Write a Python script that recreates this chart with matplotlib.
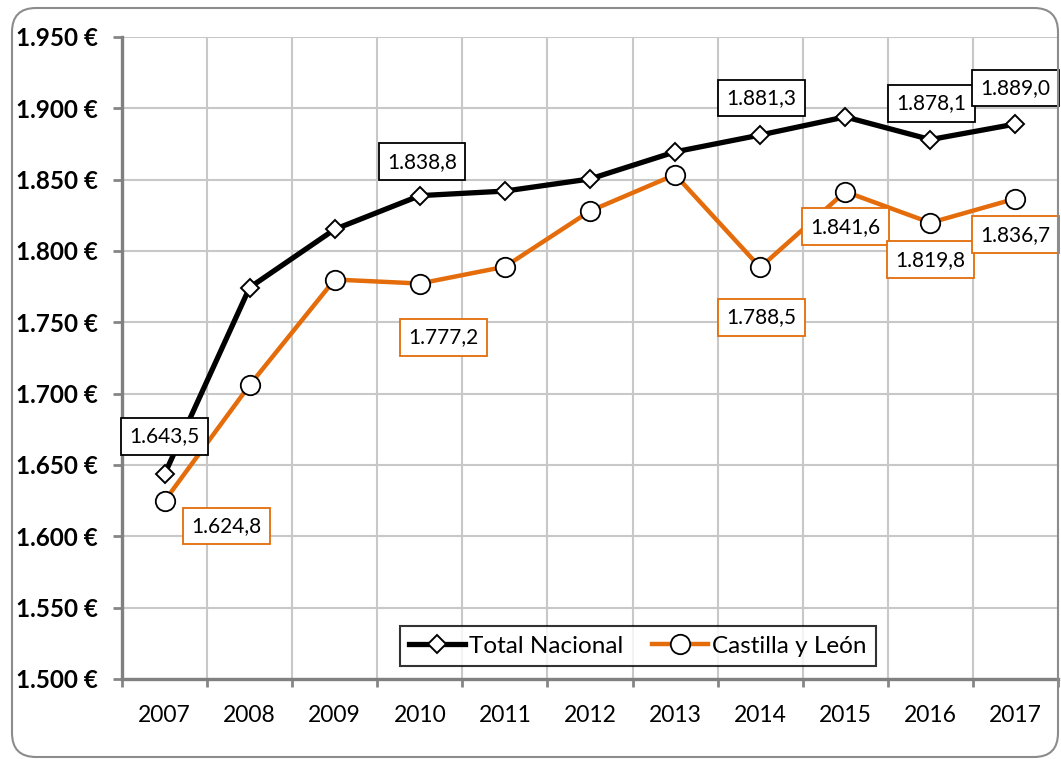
import matplotlib
matplotlib.use("Agg")
import matplotlib.pyplot as plt
from matplotlib.patches import FancyBboxPatch
from matplotlib.transforms import IdentityTransform
import numpy as np

years = ["2007", "2008", "2009", "2010", "2011", "2012", "2013", "2014", "2015", "2016", "2017"]
total_nacional = [1643.5, 1774.4, 1815.2, 1838.8, 1842.0, 1850.5, 1869.5, 1881.3, 1894.0, 1878.1, 1889.0]
castilla_leon = [1624.8, 1706.0, 1780.0, 1777.2, 1789.0, 1828.0, 1853.5, 1788.5, 1841.6, 1819.8, 1836.7]
y_ticks = [1500, 1550, 1600, 1650, 1700, 1750, 1800, 1850, 1900, 1950]

# labelled points: (index, offset in pixels)
total_labels = {0: (0, 38), 3: (2, 34), 7: (1, 37), 9: (1, 36), 10: (0, 36)}
cyl_labels = {0: (62, -25), 3: (24, -54), 7: (1, -50), 8: (0, -35), 9: (0, -37), 10: (0, -36)}

plt.rcParams['font.family'] = ['Lato', 'DejaVu Sans']

ORANGE = '#E46C0A'

fig = plt.figure(figsize=(10.61, 7.59), dpi=100)
ax = fig.add_axes([122/1061, 1-679/759, (1058-122)/1061, (679-37)/759])

x = np.arange(len(years))
ax.plot(x, total_nacional, color='black', lw=3.8, marker='D', markersize=9,
        markerfacecolor='white', markeredgecolor='black', markeredgewidth=1.4,
        label='Total Nacional', zorder=4)
ax.plot(x, castilla_leon, color=ORANGE, lw=3.2, marker='o', markersize=14,
        markerfacecolor='white', markeredgecolor='black', markeredgewidth=1.3,
        label='Castilla y León', zorder=3)

def fmt(v):
    s = f"{v:,.1f}"
    return s.replace(',', 'X').replace('.', ',').replace('X', '.')

for i, (dx, dy) in total_labels.items():
    ax.annotate(fmt(total_nacional[i]), (x[i], total_nacional[i]), xytext=(dx, dy),
                textcoords='offset pixels', ha='center', va='center', fontsize=15,
                bbox=dict(boxstyle='square,pad=0.4', fc='white', ec='black', lw=1.3), zorder=6)
for i, (dx, dy) in cyl_labels.items():
    ax.annotate(fmt(castilla_leon[i]), (x[i], castilla_leon[i]), xytext=(dx, dy),
                textcoords='offset pixels', ha='center', va='center', fontsize=15,
                bbox=dict(boxstyle='square,pad=0.4', fc='white', ec=ORANGE, lw=1.3), zorder=6)

ax.set_xlim(-0.5, len(years) - 0.5)
ax.set_ylim(1500, 1950)
ax.set_yticks(y_ticks)
ax.set_yticklabels([fmt(v).split(',')[0] + ' €' for v in y_ticks], fontsize=17.5, fontweight='bold')
ax.set_xticks(x)
ax.set_xticklabels(years, fontsize=16.5)
ax.set_xticks(np.arange(-0.5, len(years) + 0.5, 1), minor=True)
ax.tick_params(axis='x', which='major', length=0, pad=19)
ax.tick_params(axis='x', which='minor', length=6, width=2, color='#868686', direction='out')
ax.tick_params(axis='y', length=6.5, width=2, color='#868686', direction='out', pad=11)

ax.grid(False)
for v in y_ticks:
    ax.axhline(v, color='#c8c8c8', lw=1.5, zorder=0)
for xv in np.arange(0.5, len(years) + 0.5, 1):
    ax.axvline(xv, color='#c8c8c8', lw=1.5, zorder=0)

for s in ['top', 'right']:
    ax.spines[s].set_visible(False)
ax.spines['left'].set_color('#808080')
ax.spines['left'].set_linewidth(2.4)
ax.spines['bottom'].set_color('#808080')
ax.spines['bottom'].set_linewidth(2.4)

leg = ax.legend(loc='center', bbox_to_anchor=(0.551, 0.051), ncol=2, fontsize=17.5,
                frameon=True, fancybox=False, handlelength=2.3, handletextpad=0.15,
                columnspacing=1.2, borderpad=0.4, numpoints=1)
leg.get_frame().set_edgecolor('black')
leg.get_frame().set_linewidth(1.5)
leg.set_zorder(7)

border = FancyBboxPatch((12, 2), 1046, 749, boxstyle='round,pad=0,rounding_size=24',
                        transform=IdentityTransform(), fill=False, ec='#8c8c8c', lw=1.5)
fig.patches.append(border)

fig.savefig('out.png', dpi=100)
